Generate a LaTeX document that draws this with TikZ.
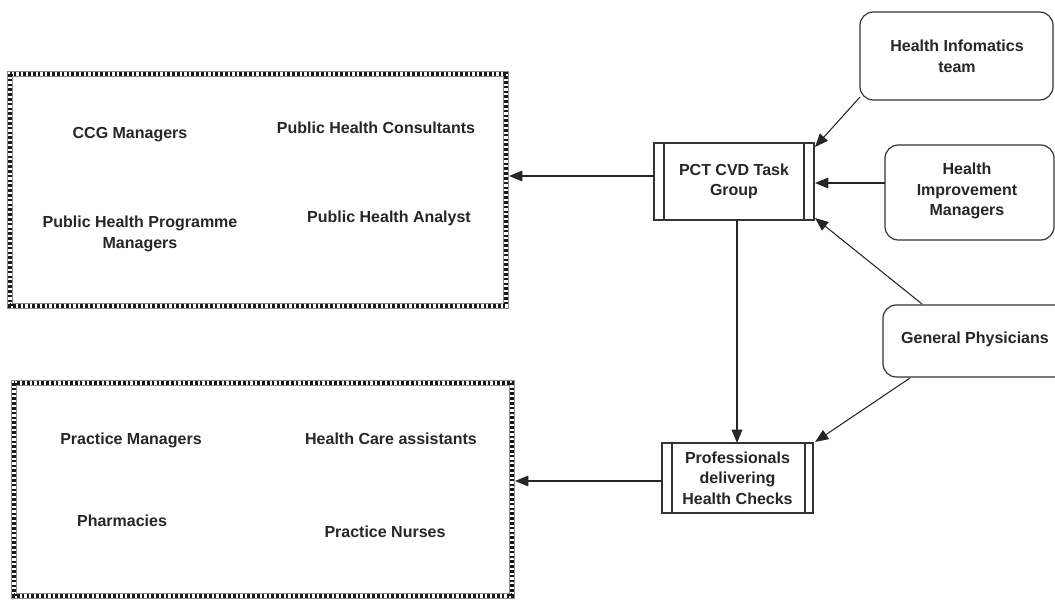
\documentclass[tikz,border=0pt]{standalone}
\usepackage{fontspec}
\setmainfont{Liberation Sans}
\usetikzlibrary{arrows.meta}
\begin{document}
\begin{tikzpicture}[x=0.75pt,y=-0.75pt,
  txt/.style={font=\bfseries\fontsize{12}{15.5}\selectfont, text=black!85, align=center, inner sep=0pt},
  hatch/.style={draw=black!90, line width=4pt, dash pattern=on 2pt off 1.6pt},
  hatchedge/.style={draw=black!45, line width=0.5pt},
  procbox/.style={draw=black!80, line width=0.9pt, fill=white},
  roundbox/.style={draw=black!80, line width=0.9pt, rounded corners=10pt, fill=white},
  arr/.style={draw=black!85, line width=0.8pt, -{Triangle[length=10pt,width=8pt]}}]
\useasboundingbox (0,0) rectangle (1055,599);
\clip (0,0) rectangle (1055,599);
% hatched group boxes
\draw[hatch] (10,74) rectangle (506,306);
\draw[hatchedge] (7.3,71.3) rectangle (508.7,308.7) (12.7,76.7) rectangle (503.3,303.3);
\draw[hatch] (14,383) rectangle (512,596);
\draw[hatchedge] (11.3,380.3) rectangle (514.7,598.7) (16.7,385.7) rectangle (509.3,593.3);
\coordinate (gA) at (509,176);
\coordinate (gB) at (515,481);
% texts in group A
\node[txt] (t1) at (130,135) {CCG Managers};
\node[txt] (t2) at (376,128) {Public Health Consultants};
\node[txt] (t3) at (140,234) {Public Health Programme\\Managers};
\node[txt] (t4) at (389,218) {Public Health Analyst};
% texts in group B
\node[txt] (t5) at (131,440) {Practice Managers};
\node[txt] (t6) at (391,439) {Health Care assistants};
\node[txt] (t7) at (122,521) {Pharmacies};
\node[txt] (t8) at (385,532) {Practice Nurses};
% process boxes
\draw[procbox] (654,143) rectangle (814,220);
\draw[procbox] (664,143) -- (664,220) (804,143) -- (804,220);
\node[txt, minimum width=160*0.75pt, minimum height=77*0.75pt] (pct) at (734,181.5) {PCT CVD Task\\Group};
\draw[procbox] (662,443) rectangle (813,513);
\draw[procbox] (672,443) -- (672,513) (805,443) -- (805,513);
\node[txt, minimum width=151*0.75pt, minimum height=70*0.75pt] (prof) at (737.5,478) {Professionals\\delivering\\Health Checks};
% rounded boxes
\draw[roundbox] (860,12) rectangle (1053,100);
\node[txt] (hi) at (957,56) {Health Infomatics\\team};
\draw[roundbox] (885,145) rectangle (1054,240);
\node[txt] (him) at (967,191) {Health\\Improvement\\Managers};
\draw[roundbox] (883,305) rectangle (1075,377);
\node[txt] (gp) at (975,339) {General Physicians};
\coordinate (hiS) at (860,97);
\coordinate (himW) at (885,183);
\coordinate (gpN) at (922,304);
\coordinate (gpS) at (910,378);
% connectors
\draw[arr] (pct.west |- gA) -- (gA);
\draw[arr] (prof.west |- gB) -- (gB);
\draw[arr] (737,220) -- (737,443);
\draw[arr] (hiS) -- (815,147);
\draw[arr] (himW) -- (815,183);
\draw[arr] (gpN) -- (815,218);
\draw[arr] (gpS) -- (815,442);
\end{tikzpicture}
\end{document}
